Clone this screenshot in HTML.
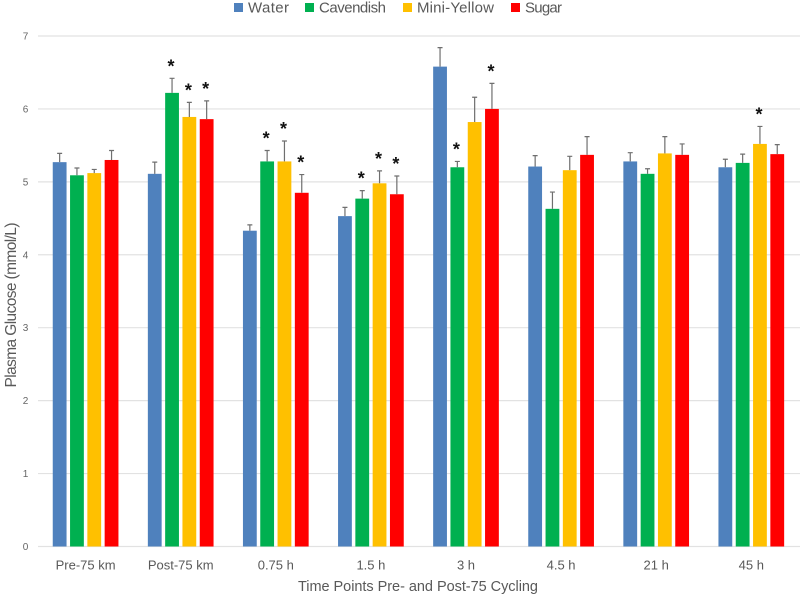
<!DOCTYPE html>
<html>
<head>
<meta charset="utf-8">
<style>
html,body{margin:0;padding:0;background:#fff;}
svg{display:block;font-family:"Liberation Sans",sans-serif;}
</style>
</head>
<body>
<svg id="chart" width="800" height="596" viewBox="0 0 800 596" xmlns="http://www.w3.org/2000/svg"></svg>
<script>
const categories = ["Pre-75 km","Post-75 km","0.75 h","1.5 h","3 h","4.5 h","21 h","45 h"];
const yTicks = [0,1,2,3,4,5,6,7];
const seriesNames = ["Water","Cavendish","Mini-Yellow","Sugar"];
const seriesColors = ["#4f81bd","#00b050","#ffc000","#ff0000"];
const water = [5.27,5.11,4.33,4.53,6.58,5.21,5.28,5.20];
const cavendish = [5.09,6.22,5.28,4.77,5.20,4.63,5.11,5.26];
const miniYellow = [5.12,5.89,5.28,4.98,5.82,5.16,5.39,5.52];
const sugar = [5.30,5.86,4.85,4.83,6.00,5.37,5.37,5.38];
const waterErr = [0.12,0.16,0.08,0.12,0.26,0.15,0.12,0.11];
const cavendishErr = [0.10,0.20,0.15,0.11,0.08,0.23,0.07,0.12];
const miniYellowErr = [0.05,0.20,0.28,0.17,0.34,0.19,0.23,0.24];
const sugarErr = [0.13,0.25,0.25,0.25,0.35,0.25,0.15,0.13];
const waterSig = [0,0,0,0,0,0,0,0];
const cavendishSig = [0,1,1,1,1,0,0,0];
const miniYellowSig = [0,1,1,1,0,0,0,1];
const sugarSig = [0,1,1,1,1,0,0,0];

const values = [water,cavendish,miniYellow,sugar];
const errors = [waterErr,cavendishErr,miniYellowErr,sugarErr];
const flags = [waterSig,cavendishSig,miniYellowSig,sugarSig];
const svg = document.getElementById('chart');
const NS = 'http://www.w3.org/2000/svg';
const y = v => 546.5 - v * 72.93;
const groupX = i => 85.6 + i * 95.1;
const barW = 13.8;
const barX = (g, s) => groupX(g) + (s - 2) * 17.3 + 1.75;

function add(tag, attrs, text) {
  const e = document.createElementNS(NS, tag);
  for (const k in attrs) e.setAttribute(k, attrs[k]);
  if (text !== undefined) e.textContent = text;
  svg.appendChild(e);
  return e;
}

yTicks.forEach(t => {
  const grid = add('line', {x1:38, x2:800, y1:y(t), y2:y(t), stroke:'#e2e2e2', 'stroke-width':1.2});
  
  
  const lab = add('text', {x:25.5, y:y(t)+3.5, 'text-anchor':'middle', 'font-size':10, fill:'#666'}, t);
  
  
});

seriesNames.forEach((name, s) => {
  categories.forEach((cat, g) => {
    const v = values[s][g];
    const x = barX(g, s);
    const bar = add('rect', {x:x, y:y(v), width:barW, height:y(0)-y(v), fill:seriesColors[s]});
    
    
    const top = v + errors[s][g];
    const cx = x + barW / 2;
    const err = add('path', {d:'M'+cx+' '+y(v)+'V'+y(top)+'M'+(cx-2.5)+' '+y(top)+'H'+(cx+2.5), stroke:'#6f6f6f', 'stroke-width':1.2, fill:'none'});
    
    
    if (flags[s][g]) {
      const st = add('text', {x:cx-1, y:y(top)-6, 'text-anchor':'middle', 'font-size':18, 'font-weight':'bold', fill:'#111'}, '*');
      
      
    }
  });
});

categories.forEach((cat, g) => {
  const lab = add('text', {x:groupX(g), y:569.5, 'text-anchor':'middle', 'font-size':13, fill:'#595959'}, cat);
  
  
});

const legendSquareX = [234,305,403,511];
const legendTextWidth = [41,67,77,37];
seriesNames.forEach((name, s) => {
  const sw = add('rect', {x:legendSquareX[s], y:3, width:9, height:9, fill:seriesColors[s]});
  
  
  const tx = add('text', {x:legendSquareX[s]+14, y:12.5, 'font-size':15, textLength:legendTextWidth[s], fill:'#595959'}, name);
  
  
});

const xTitle = add('text', {x:418, y:591, 'text-anchor':'middle', 'font-size':14.5, textLength:240, fill:'#595959'}, 'Time Points Pre- and Post-75 Cycling');


const yTitle = add('text', {x:0, y:0, transform:'translate(16,305) rotate(-90)', 'text-anchor':'middle', 'font-size':15.5, textLength:165, fill:'#595959'}, 'Plasma Glucose (mmol/L)');


</script>
</body>
</html>
